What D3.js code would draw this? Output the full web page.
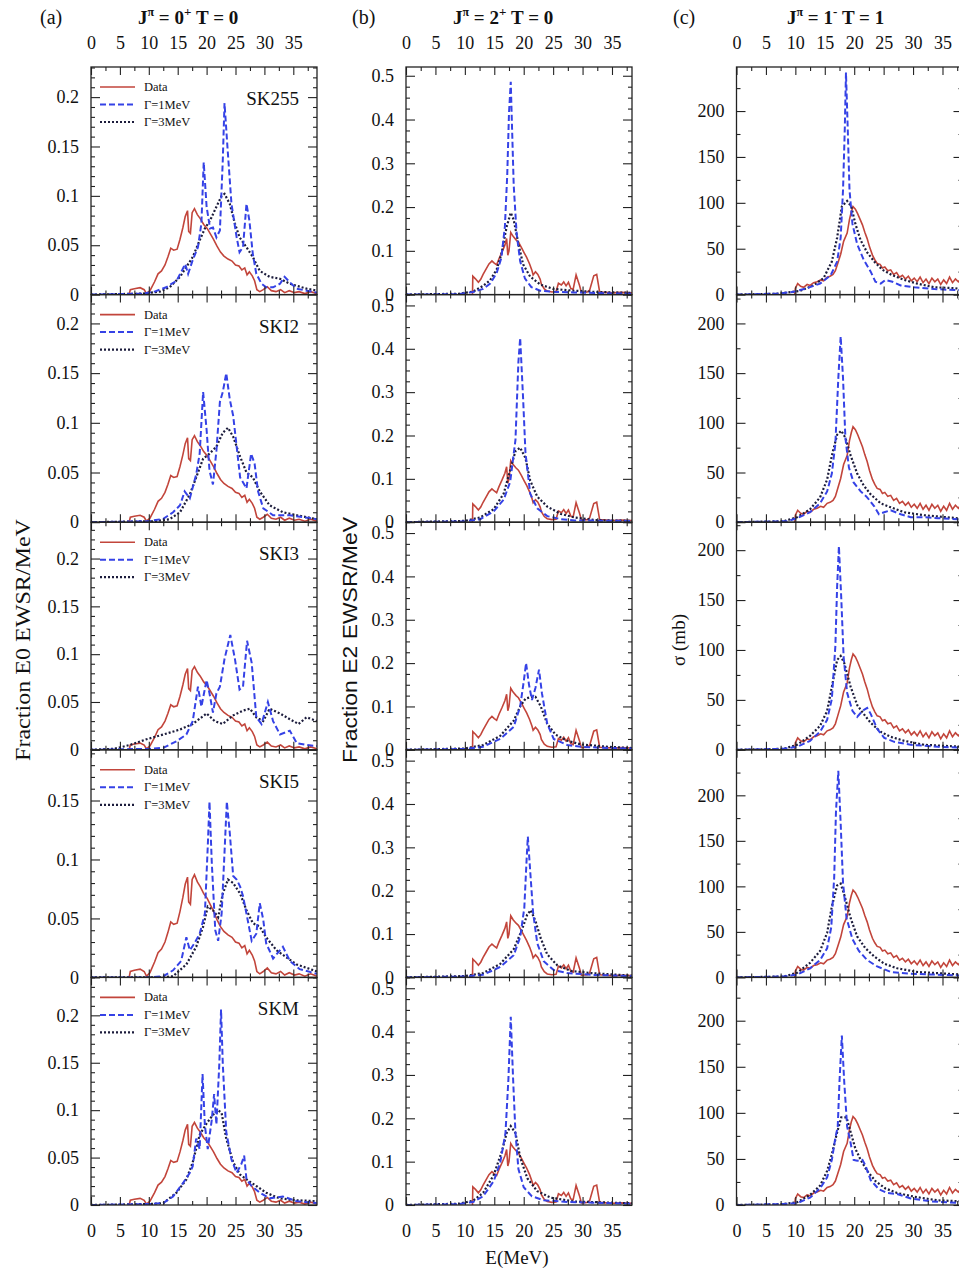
<!DOCTYPE html>
<html><head><meta charset="utf-8">
<script src="https://cdn.jsdelivr.net/npm/d3@7"></script>
<style>
body{margin:0;background:#fff}
svg{display:block}
text{font-family:"Liberation Serif","Times New Roman",serif;fill:#111}
</style>
</head><body>
<svg id="c" width="959" height="1273"></svg>
<script>
// ---------- categories / labels ----------
const models = ["SK255","SKI2","SKI3","SKI5","SKM"];
const xTickValues = [0,5,10,15,20,25,30,35];
const colTitles = [["0","+","0"],["2","+","0"],["1","-","1"]];
const panelLetters = ["(a)","(b)","(c)"];
const yTitles = ["Fraction E0 EWSR/MeV","Fraction E2 EWSR/MeV","σ (mb)"];
const legendLabels = ["Data","Γ=1MeV","Γ=3MeV"];

// axis extents per column / row
const xMax = [39.1, 38.4, 38.4];
const yMaxE0 = [0.2305, 0.229, 0.238, 0.193, 0.24];
const yMaxE2 = [0.52, 0.525, 0.525, 0.525, 0.525];
const yMaxE1 = [248, 229, 228, 250, 247];
const yTicksE0 = [0, 0.05, 0.1, 0.15, 0.2];
const yTicksE2 = [0, 0.1, 0.2, 0.3, 0.4, 0.5];
const yTicksE1 = [0, 50, 100, 150, 200];

// ---------- experimental data ----------
const dataE0 = [[6.6,0],[6.8,0.005],[7.5,0.006],[8.5,0.007],[9.2,0.005],[9.6,0.001],[10.2,0.004],[11,0.013],[11.6,0.021],[12.2,0.024],[12.8,0.030],[13.3,0.038],[13.8,0.047],[14.3,0.045],[14.9,0.046],[15.4,0.056],[15.9,0.068],[16.3,0.079],[16.7,0.085],[16.9,0.064],[17.2,0.062],[17.5,0.083],[17.9,0.087],[18.4,0.081],[18.9,0.077],[19.5,0.071],[20.1,0.067],[20.7,0.061],[21.2,0.056],[21.8,0.049],[22.4,0.043],[23,0.039],[23.7,0.036],[24.4,0.034],[25,0.030],[25.6,0.029],[26.1,0.025],[26.6,0.027],[27.0,0.020],[27.4,0.023],[27.9,0.019],[28.3,0.014],[28.7,0.005],[29.2,0.003],[29.8,0.005],[30.5,0.008],[31.2,0.004],[32,0.003],[32.8,0.005],[33.5,0.002],[34.3,0.004],[35.2,0.002],[36,0.003],[37,0.001],[38,0.003],[39.1,0.001]];
const dataE2 = [[11.3,0],[11.35,0.042],[11.8,0.036],[12.3,0.028],[12.7,0.035],[13.1,0.046],[13.6,0.058],[14.1,0.07],[14.6,0.077],[15.0,0.072],[15.4,0.068],[15.8,0.082],[16.3,0.097],[16.8,0.113],[17.1,0.128],[17.3,0.09],[17.5,0.1],[17.8,0.142],[18.2,0.133],[18.7,0.125],[19.1,0.12],[19.6,0.108],[20.1,0.095],[20.5,0.085],[21.0,0.07],[21.4,0.055],[21.6,0.045],[22.0,0.052],[22.4,0.046],[22.8,0.035],[23.0,0.024],[23.5,0.013],[24.0,0.008],[24.8,0.006],[25.5,0.007],[25.9,0.026],[26.4,0.022],[26.8,0.029],[27.2,0.02],[27.6,0.028],[28.0,0.014],[28.4,0.012],[28.9,0.045],[29.5,0.02],[29.8,0.005],[30.8,0.006],[31.2,0.01],[31.9,0.043],[32.4,0.046],[32.9,0.006],[34,0.005],[35,0.004],[36.5,0.005],[38.4,0.004]];
const dataE1 = [[9.9,0],[10,7],[10.4,12],[10.9,9],[11.4,8],[12,11],[12.5,10],[13.1,13],[13.7,14],[14.3,16],[14.8,15],[15.4,19],[15.9,20],[16.4,22],[16.8,26],[17.2,34],[17.7,44],[18.2,58],[18.8,67],[19.2,82],[19.5,90],[19.8,96],[20.2,93],[20.6,88],[21.0,82],[21.4,76],[21.8,68],[22.2,61],[22.6,52],[23.1,43],[23.5,38],[23.9,34],[24.4,33],[24.8,29],[25.2,30],[25.7,26],[26.2,27],[26.7,22],[27.2,24],[27.7,19],[28.2,21],[28.7,17],[29.2,20],[29.7,15],[30.2,18],[30.7,14],[31.2,19],[31.7,13],[32.2,17],[32.7,12],[33.2,18],[33.7,14],[34.2,17],[34.7,11],[35.2,16],[35.7,12],[36.2,19],[36.7,13],[37.2,17],[37.7,14],[38.2,18],[38.5,16]];

// ---------- E0 theory ----------
const e0g1_SK255 = [[0,0],[9,0.001],[11,0.003],[13,0.0074],[14.8,0.014],[15.7,0.024],[16.3,0.031],[16.8,0.021],[17.6,0.035],[18.5,0.048],[19.1,0.072],[19.5,0.134],[20,0.089],[20.6,0.067],[21.1,0.068],[21.7,0.058],[22.3,0.065],[22.8,0.136],[23.1,0.194],[23.6,0.15],[24.3,0.092],[25.2,0.058],[25.7,0.043],[26.3,0.048],[26.9,0.092],[27.4,0.075],[28,0.041],[28.6,0.021],[29.5,0.011],[30.3,0.0074],[31.5,0.0074],[32.7,0.011],[33.5,0.018],[34.4,0.0125],[35.6,0.006],[37.3,0.004],[39.1,0.002]];
const e0g3_SK255 = [[0,0],[9,0.001],[11.9,0.003],[13.6,0.0074],[15.4,0.018],[17.6,0.038],[18.8,0.055],[19.7,0.067],[20.6,0.075],[21.7,0.089],[22.6,0.1],[23.1,0.102],[24,0.092],[24.9,0.072],[25.7,0.058],[26.9,0.048],[28,0.038],[29.2,0.024],[30.9,0.018],[32.7,0.016],[34.4,0.011],[37.3,0.006],[39.1,0.004]];
const e0g1_SKI2 = [[0,0],[10,0.001],[12.5,0.0034],[14.2,0.010],[15.4,0.017],[16.2,0.031],[17.1,0.024],[18.2,0.048],[18.8,0.069],[19.4,0.131],[20,0.093],[20.5,0.052],[21.1,0.038],[21.7,0.072],[22.3,0.121],[22.8,0.131],[23.4,0.15],[24,0.124],[24.6,0.107],[25.2,0.076],[25.8,0.045],[26.9,0.034],[27.7,0.069],[28.3,0.059],[28.9,0.031],[29.8,0.014],[31.5,0.007],[34.4,0.007],[36.7,0.005],[39.1,0.003]];
const e0g3_SKI2 = [[0,0],[11,0.001],[13.6,0.003],[15.4,0.01],[17.1,0.028],[18.2,0.045],[19.4,0.064],[20.5,0.069],[21.7,0.076],[22.8,0.09],[23.7,0.095],[24.6,0.086],[25.8,0.066],[26.9,0.05],[28,0.045],[29.2,0.031],[30.9,0.017],[33.2,0.010],[35.6,0.007],[39.1,0.003]];
const e0g1_SKI3 = [[0,0],[10,0.001],[12.5,0.002],[14.8,0.009],[16.5,0.016],[17.6,0.03],[18.5,0.066],[19.1,0.045],[20,0.073],[20.5,0.059],[21.1,0.039],[21.7,0.059],[22.3,0.066],[23.1,0.095],[24.1,0.12],[24.9,0.095],[25.7,0.063],[26.3,0.066],[27,0.114],[27.8,0.091],[28.6,0.034],[29.5,0.027],[30.6,0.05],[31.5,0.03],[32.7,0.016],[34.4,0.02],[35.6,0.007],[37.3,0.005],[39.1,0.004]];
const e0g3_SKI3 = [[0,0],[4,0.001],[6.7,0.005],[9.6,0.011],[12.5,0.016],[15.3,0.021],[17.6,0.027],[20,0.038],[21.4,0.03],[22.8,0.027],[24.6,0.036],[26.3,0.041],[27.5,0.043],[28.6,0.034],[29.8,0.03],[30.9,0.043],[32.7,0.038],[34.4,0.032],[35.9,0.027],[37.3,0.034],[39.1,0.03]];
const e0g1_SKI5 = [[0,0],[10,0],[12.5,0.001],[14.2,0.006],[15.6,0.014],[16.5,0.034],[17.1,0.023],[17.9,0.029],[18.8,0.037],[19.7,0.054],[20.2,0.111],[20.5,0.149],[20.9,0.097],[21.5,0.04],[22,0.031],[22.6,0.054],[23.1,0.106],[23.5,0.149],[24,0.123],[24.6,0.086],[25.2,0.083],[25.8,0.077],[26.3,0.069],[26.9,0.054],[27.8,0.031],[28.6,0.037],[29.2,0.063],[29.8,0.049],[30.3,0.029],[31.5,0.016],[33.2,0.026],[34.4,0.014],[36.1,0.007],[39.1,0.003]];
const e0g3_SKI5 = [[0,0],[12,0],[14.2,0.001],[16.5,0.011],[18.2,0.026],[19.4,0.043],[20.2,0.06],[21.1,0.057],[22,0.051],[22.8,0.071],[23.7,0.083],[24.6,0.08],[25.8,0.071],[26.9,0.057],[28,0.046],[29.2,0.043],[30.3,0.034],[32.1,0.023],[33.8,0.017],[35.6,0.011],[39.1,0.005]];
const e0g1_SKM = [[0,0],[10,0.001],[12.5,0.002],[14.2,0.009],[15.9,0.023],[17.1,0.034],[17.6,0.041],[18.2,0.07],[18.8,0.059],[19.3,0.138],[19.7,0.084],[20.2,0.059],[20.9,0.09],[21.3,0.117],[21.7,0.085],[22.2,0.149],[22.5,0.206],[22.8,0.149],[23.4,0.077],[24.3,0.048],[25.2,0.034],[26,0.043],[26.5,0.052],[26.9,0.027],[27.8,0.02],[29.2,0.013],[30.9,0.007],[33.2,0.009],[35.6,0.004],[39.1,0.002]];
const e0g3_SKM = [[0,0],[10,0.001],[12.5,0.002],[14.8,0.013],[16.5,0.027],[17.6,0.045],[18.8,0.074],[20,0.086],[21.1,0.095],[22,0.1],[22.6,0.097],[23.4,0.07],[24.6,0.045],[25.8,0.032],[26.9,0.027],[28.6,0.02],[30.3,0.013],[32.6,0.007],[35.6,0.005],[39.1,0.004]];

// ---------- E2 theory ----------
const e2g1_SK255 = [[0,0],[9,0.001],[11.4,0.006],[13.1,0.013],[14.3,0.025],[15.4,0.049],[16.2,0.084],[16.8,0.155],[17.2,0.273],[17.5,0.415],[17.8,0.486],[18,0.39],[18.3,0.25],[18.8,0.139],[19.4,0.076],[20.2,0.037],[21.3,0.017],[22.8,0.009],[25.6,0.006],[28.4,0.005],[34,0.003],[38.4,0.002]];
const e2g3_SK255 = [[0,0],[9,0.002],[11.4,0.007],[13.1,0.02],[14.3,0.033],[15.4,0.057],[16.2,0.092],[17.1,0.155],[17.8,0.187],[18.3,0.171],[19.1,0.116],[19.9,0.069],[21.1,0.041],[22.8,0.023],[25,0.013],[28.4,0.009],[32.4,0.006],[38.4,0.004]];
const e2g1_SKI2 = [[0,0],[10,0.002],[12.6,0.007],[14.9,0.025],[16.6,0.052],[17.7,0.093],[18.6,0.19],[19.1,0.37],[19.4,0.425],[19.9,0.285],[20.3,0.16],[21.1,0.066],[22.3,0.032],[24,0.014],[26.3,0.007],[28.6,0.004],[38.4,0.003]];
const e2g3_SKI2 = [[0,0],[10,0.003],[12.6,0.011],[14.9,0.03],[16.6,0.066],[17.7,0.12],[18.6,0.164],[19.4,0.172],[20.3,0.148],[21.1,0.096],[22.3,0.059],[24,0.036],[26.3,0.019],[28.6,0.011],[32,0.005],[38.4,0.003]];
const e2g1_SKI3 = [[0,0],[10,0.002],[13.1,0.007],[16,0.025],[18.3,0.053],[19.4,0.1],[20,0.157],[20.4,0.2],[20.9,0.15],[21.4,0.115],[22,0.143],[22.6,0.185],[23.1,0.13],[24,0.06],[25.1,0.025],[27.4,0.011],[29.7,0.007],[34.3,0.004],[38.4,0.003]];
const e2g3_SKI3 = [[0,0],[10,0.003],[13.1,0.011],[16,0.032],[18.3,0.067],[19.4,0.1],[20.3,0.118],[21.1,0.121],[22,0.122],[22.9,0.1],[24,0.06],[25.4,0.035],[27.4,0.021],[29.7,0.0125],[34.3,0.007],[38.4,0.004]];
const e2g1_SKI5 = [[0,0],[10,0.002],[13.1,0.006],[16,0.024],[18.3,0.051],[19.4,0.093],[20.1,0.16],[20.5,0.274],[20.7,0.325],[21.1,0.246],[21.6,0.149],[22.3,0.079],[23.4,0.0375],[25.1,0.017],[27.4,0.01],[31.4,0.006],[38.4,0.003]];
const e2g3_SKI5 = [[0,0],[10,0.003],[13.1,0.01],[16,0.031],[18.3,0.065],[19.7,0.11],[20.6,0.145],[21.2,0.155],[22,0.13],[22.9,0.09],[24,0.053],[25.7,0.028],[28,0.015],[31.4,0.01],[38.4,0.004]];
const e2g1_SKM = [[0,0],[9,0.002],[11.4,0.007],[13.1,0.02],[14.9,0.055],[16,0.097],[16.9,0.166],[17.4,0.29],[17.8,0.434],[18.2,0.29],[18.6,0.166],[19.1,0.083],[20,0.041],[21.4,0.02],[23.4,0.011],[27.4,0.007],[38.4,0.003]];
const e2g3_SKM = [[0,0],[9,0.003],[11.4,0.01],[13.1,0.028],[14.9,0.069],[16.3,0.124],[17.1,0.166],[17.8,0.182],[18.6,0.166],[19.4,0.11],[20.6,0.062],[22.3,0.032],[24.6,0.017],[28.6,0.008],[38.4,0.004]];

// ---------- E1 theory (cross section, mb) ----------
const e1g1_SK255 = [[0,0],[7,1],[9.7,3],[12,7],[14.2,12],[16,21],[17.1,36],[17.7,62],[18.1,114],[18.4,181],[18.6,242],[18.9,181],[19.2,114],[19.7,77],[20.5,55],[21.6,38],[22.8,25],[23.6,14],[24.5,12],[25.3,16],[26.5,14],[27.9,10],[30.2,8],[33.6,6],[37,5],[38.4,5]];
const e1g3_SK255 = [[0,0],[7,1],[10.8,4],[13.1,10],[14.8,18],[16.2,36],[17.1,62],[17.9,96],[18.8,102],[19.5,96],[20.2,77],[21.1,59],[22.2,46],[23.4,36],[24.8,27],[26.5,21],[28.5,16],[30.7,12],[33.6,8],[37,7],[38.4,6]];
const e1g1_SKI2 = [[0,0],[8.6,1],[10.3,4],[12.5,10],[14.2,19],[15.4,31],[16.2,49],[16.8,79],[17.3,145],[17.7,187],[18.1,145],[18.5,85],[19.1,55],[19.9,40],[21.1,31],[22.2,25],[23.4,16],[24.2,8],[25.1,10],[26.2,12],[27.9,8],[29.6,5],[31.9,5],[34.2,4],[37.6,3],[38.4,3]];
const e1g3_SKI2 = [[0,0],[8,1],[10.3,5],[12.5,13],[14.2,25],[15.4,43],[16.2,67],[17.1,88],[17.8,92],[18.5,85],[19.4,67],[20.5,49],[21.6,37],[22.8,28],[24.5,19],[26.2,15],[28.5,10],[31.9,7],[37.6,4],[38.4,4]];
const e1g1_SKI3 = [[0,0],[8,1],[10.3,3],[12.5,9],[14.2,18],[15.4,30],[16.2,51],[16.8,104],[17.1,164],[17.4,204],[17.8,152],[18.2,93],[18.8,57],[19.7,39],[20.5,33],[21.4,39],[22.2,42],[22.8,36],[23.9,21],[25.1,12],[26.8,8],[29.6,5],[34.2,3],[38.4,2]];
const e1g3_SKI3 = [[0,0],[8,1],[10.3,5],[12.5,14],[14.2,24],[15.4,39],[16.2,63],[17.1,90],[17.7,94],[18.3,87],[19.4,63],[20.5,45],[21.6,36],[22.8,27],[24.5,18],[26.2,13],[28.5,9],[31.9,5],[38.4,3]];
const e1g1_SKI5 = [[0,0],[8,1],[10.3,3],[12.5,10],[14.2,19],[15.4,32],[16.1,55],[16.6,110],[16.9,182],[17.3,227],[17.7,169],[18.1,104],[18.7,65],[19.7,42],[20.8,29],[22.2,19],[23.9,12],[26.2,6],[29.6,4],[38.4,2]];
const e1g3_SKI5 = [[0,0],[8,1],[10.3,5],[12.5,16],[14.2,29],[15.4,49],[16.2,78],[17.1,101],[17.7,103],[18.3,91],[19.4,65],[20.5,45],[21.9,32],[23.4,23],[25.1,15],[27.3,10],[30.7,6],[38.4,3]];
const e1g1_SKM = [[0,0],[8,1],[10.3,2],[12.5,8],[14.2,18],[15.4,30],[16.2,49],[16.8,73],[17.2,85],[17.5,134],[17.9,184],[18.3,134],[18.8,85],[19.4,67],[19.9,49],[20.5,48],[21.4,49],[21.9,43],[22.8,27],[24.2,17],[25.6,13],[27.3,12],[29.6,7],[33,4],[38.4,2]];
const e1g3_SKM = [[0,0],[8,1],[10.3,3],[12.5,11],[14.2,21],[15.4,37],[16.2,55],[17.1,79],[17.8,95],[18.7,95],[19.4,79],[20.2,61],[21.1,49],[22.2,37],[23.6,26],[25.3,18],[27.3,13],[30.2,9],[34.2,5],[38.4,4]];

// ---------- assemble ----------
const columns = [
  {data:dataE0, g1:[e0g1_SK255,e0g1_SKI2,e0g1_SKI3,e0g1_SKI5,e0g1_SKM], g3:[e0g3_SK255,e0g3_SKI2,e0g3_SKI3,e0g3_SKI5,e0g3_SKM],
   yMax:yMaxE0, yTicks:yTicksE0, yMinor:0.01, fmt:d=>d===0?"0":d3.format(".2~f")(d)},
  {data:dataE2, g1:[e2g1_SK255,e2g1_SKI2,e2g1_SKI3,e2g1_SKI5,e2g1_SKM], g3:[e2g3_SK255,e2g3_SKI2,e2g3_SKI3,e2g3_SKI5,e2g3_SKM],
   yMax:yMaxE2, yTicks:yTicksE2, yMinor:0.025, fmt:d=>d===0?"0":d3.format(".1f")(d)},
  {data:dataE1, g1:[e1g1_SK255,e1g1_SKI2,e1g1_SKI3,e1g1_SKI5,e1g1_SKM], g3:[e1g3_SK255,e1g3_SKI2,e1g3_SKI3,e1g3_SKI5,e1g3_SKM],
   yMax:yMaxE1, yTicks:yTicksE1, yMinor:25, fmt:d3.format("d")}
];

// ---------- layout ----------
const colX = [91, 406, 736.5];
const colW = 226;
const top0 = 67, rowH = 227.6;
const RED = "#c2453b", BLUE = "#3542e6", DARK = "#1c1c3c";

const svg = d3.select("#c");
const defs = svg.append("defs");

function ticksBetween(max, step, majors){
  const out=[]; for(let v=0; v<=max+1e-9; v+=step){ const r=+v.toFixed(6); if(!majors.some(m=>Math.abs(m-r)<1e-9)) out.push(r);} return out;
}

columns.forEach((col, ci) => {
  const x = d3.scaleLinear().domain([0, xMax[ci]]).range([0, colW]);
  const xMinor = [2.5,7.5,12.5,17.5,22.5,27.5,32.5,37.5].filter(v=>v<xMax[ci]);
  models.forEach((m, ri) => {
    const yMaxR = col.yMax[ri];
    const y = d3.scaleLinear().domain([0, yMaxR]).range([rowH, 0]);
    const g = svg.append("g").attr("transform", `translate(${colX[ci]},${top0 + ri*rowH})`);
    const cid = `clip${ci}_${ri}`;
    defs.append("clipPath").attr("id", cid).append("rect").attr("width", colW).attr("height", rowH);
    const line = d3.line().x(d=>x(d[0])).y(d=>y(d[1]));
    const pl = g.append("g").attr("clip-path", `url(#${cid})`);
    pl.append("path").datum(col.data).attr("d", line).attr("fill","none").attr("stroke",RED).attr("stroke-width",1.6);
    pl.append("path").datum(col.g3[ri]).attr("d", line).attr("fill","none").attr("stroke",DARK).attr("stroke-width",2.2).attr("stroke-dasharray","2,2");
    pl.append("path").datum(col.g1[ri]).attr("d", line).attr("fill","none").attr("stroke",BLUE).attr("stroke-width",2).attr("stroke-dasharray","6,3");

    const yMajorV = col.yTicks.filter(v => v <= yMaxR + 1e-9);
    const yMinorV = ticksBetween(yMaxR, col.yMinor, col.yTicks);
    const clean = s => s.call(a=>a.select(".domain").remove()).call(a=>a.selectAll("line").attr("stroke","#222").attr("stroke-width",1.1));
    // x ticks (inward) bottom and top
    g.append("g").attr("transform",`translate(0,${rowH})`).call(d3.axisBottom(x).tickValues(xTickValues).tickSize(-8).tickFormat("")).call(clean);
    g.append("g").attr("transform",`translate(0,${rowH})`).call(d3.axisBottom(x).tickValues(xMinor).tickSize(-4).tickFormat("")).call(clean);
    g.append("g").call(d3.axisTop(x).tickValues(xTickValues).tickSize(-8).tickFormat("")).call(clean);
    g.append("g").call(d3.axisTop(x).tickValues(xMinor).tickSize(-4).tickFormat("")).call(clean);
    // y ticks left / right
    g.append("g").call(d3.axisLeft(y).tickValues(yMajorV).tickSize(-9).tickPadding(12).tickFormat(col.fmt)).call(clean)
      .selectAll("text").attr("font-size",18).attr("font-family","Liberation Serif").attr("fill","#111");
    g.append("g").call(d3.axisLeft(y).tickValues(yMinorV).tickSize(-4).tickFormat("")).call(clean);
    g.append("g").attr("transform",`translate(${colW},0)`).call(d3.axisRight(y).tickValues(yMajorV).tickSize(-9).tickFormat("")).call(clean);
    g.append("g").attr("transform",`translate(${colW},0)`).call(d3.axisRight(y).tickValues(yMinorV).tickSize(-4).tickFormat("")).call(clean);
    // tick labels on top of first row / bottom of last row
    if (ri === 0) {
      g.append("g").call(d3.axisTop(x).tickValues(xTickValues).tickSize(0).tickPadding(18)).call(a=>a.select(".domain").remove())
        .selectAll("text").attr("font-size",18).attr("font-family","Liberation Serif").attr("fill","#111");
    }
    if (ri === models.length-1) {
      g.append("g").attr("transform",`translate(0,${rowH})`).call(d3.axisBottom(x).tickValues(xTickValues).tickSize(0).tickPadding(19)).call(a=>a.select(".domain").remove())
        .selectAll("text").attr("font-size",18).attr("font-family","Liberation Serif").attr("fill","#111");
    }
    // frame
    g.append("rect").attr("width",colW).attr("height",rowH).attr("fill","none").attr("stroke","#222").attr("stroke-width",1.3);

    if (ci === 0) {
      g.append("text").attr("x", colW-18).attr("y", 38).attr("text-anchor","end").attr("font-size",19).text(m);
      const styles = [[RED,1.6,null],[BLUE,2,"6,3"],[DARK,2.2,"2,2"]];
      legendLabels.forEach((lab, li) => {
        const ly = 20 + li*17.5;
        const ln = g.append("line").attr("x1",9).attr("x2",44).attr("y1",ly).attr("y2",ly)
          .attr("stroke",styles[li][0]).attr("stroke-width",styles[li][1]);
        if (styles[li][2]) ln.attr("stroke-dasharray",styles[li][2]);
        g.append("text").attr("x",53).attr("y",ly+4).attr("font-size",12.5).text(lab);
      });
    }
  });
});

// column headers
const letterX = [40, 352, 673];
const titleX = [138, 453, 787];
colTitles.forEach((t, ci) => {
  svg.append("text").attr("x", letterX[ci]).attr("y", 24).attr("font-size",20).text(panelLetters[ci]);
  const tx = svg.append("text").attr("x", titleX[ci]).attr("y", 24).attr("font-size",19).attr("font-weight","bold");
  tx.append("tspan").text("J");
  tx.append("tspan").attr("dy",-8).attr("font-size",12).text("π");
  tx.append("tspan").attr("dy",8).text(" = " + t[0]);
  tx.append("tspan").attr("dy",-8).attr("font-size",13).text(t[1]);
  tx.append("tspan").attr("dy",8).text("  T = " + t[2]);
});

// axis titles
const yTitleX = [22, 350, 678];
const yTitleLen = [242, 246, null];
yTitles.forEach((t, ci) => {
  const tt = svg.append("text").attr("transform",`translate(${yTitleX[ci]},640) rotate(-90)`).attr("text-anchor","middle")
    .attr("dy","0.35em").attr("font-size", ci===2?19:22).text(t);
  if (yTitleLen[ci]) tt.attr("textLength", yTitleLen[ci]).attr("lengthAdjust","spacingAndGlyphs");
  if (ci === 1) tt.style("font-family","'Liberation Sans Narrow','Liberation Sans',sans-serif").attr("font-size",21);
});
svg.append("text").attr("x", 517).attr("y", 1264).attr("text-anchor","middle").attr("font-size",19).text("E(MeV)");
</script>
</body></html>
